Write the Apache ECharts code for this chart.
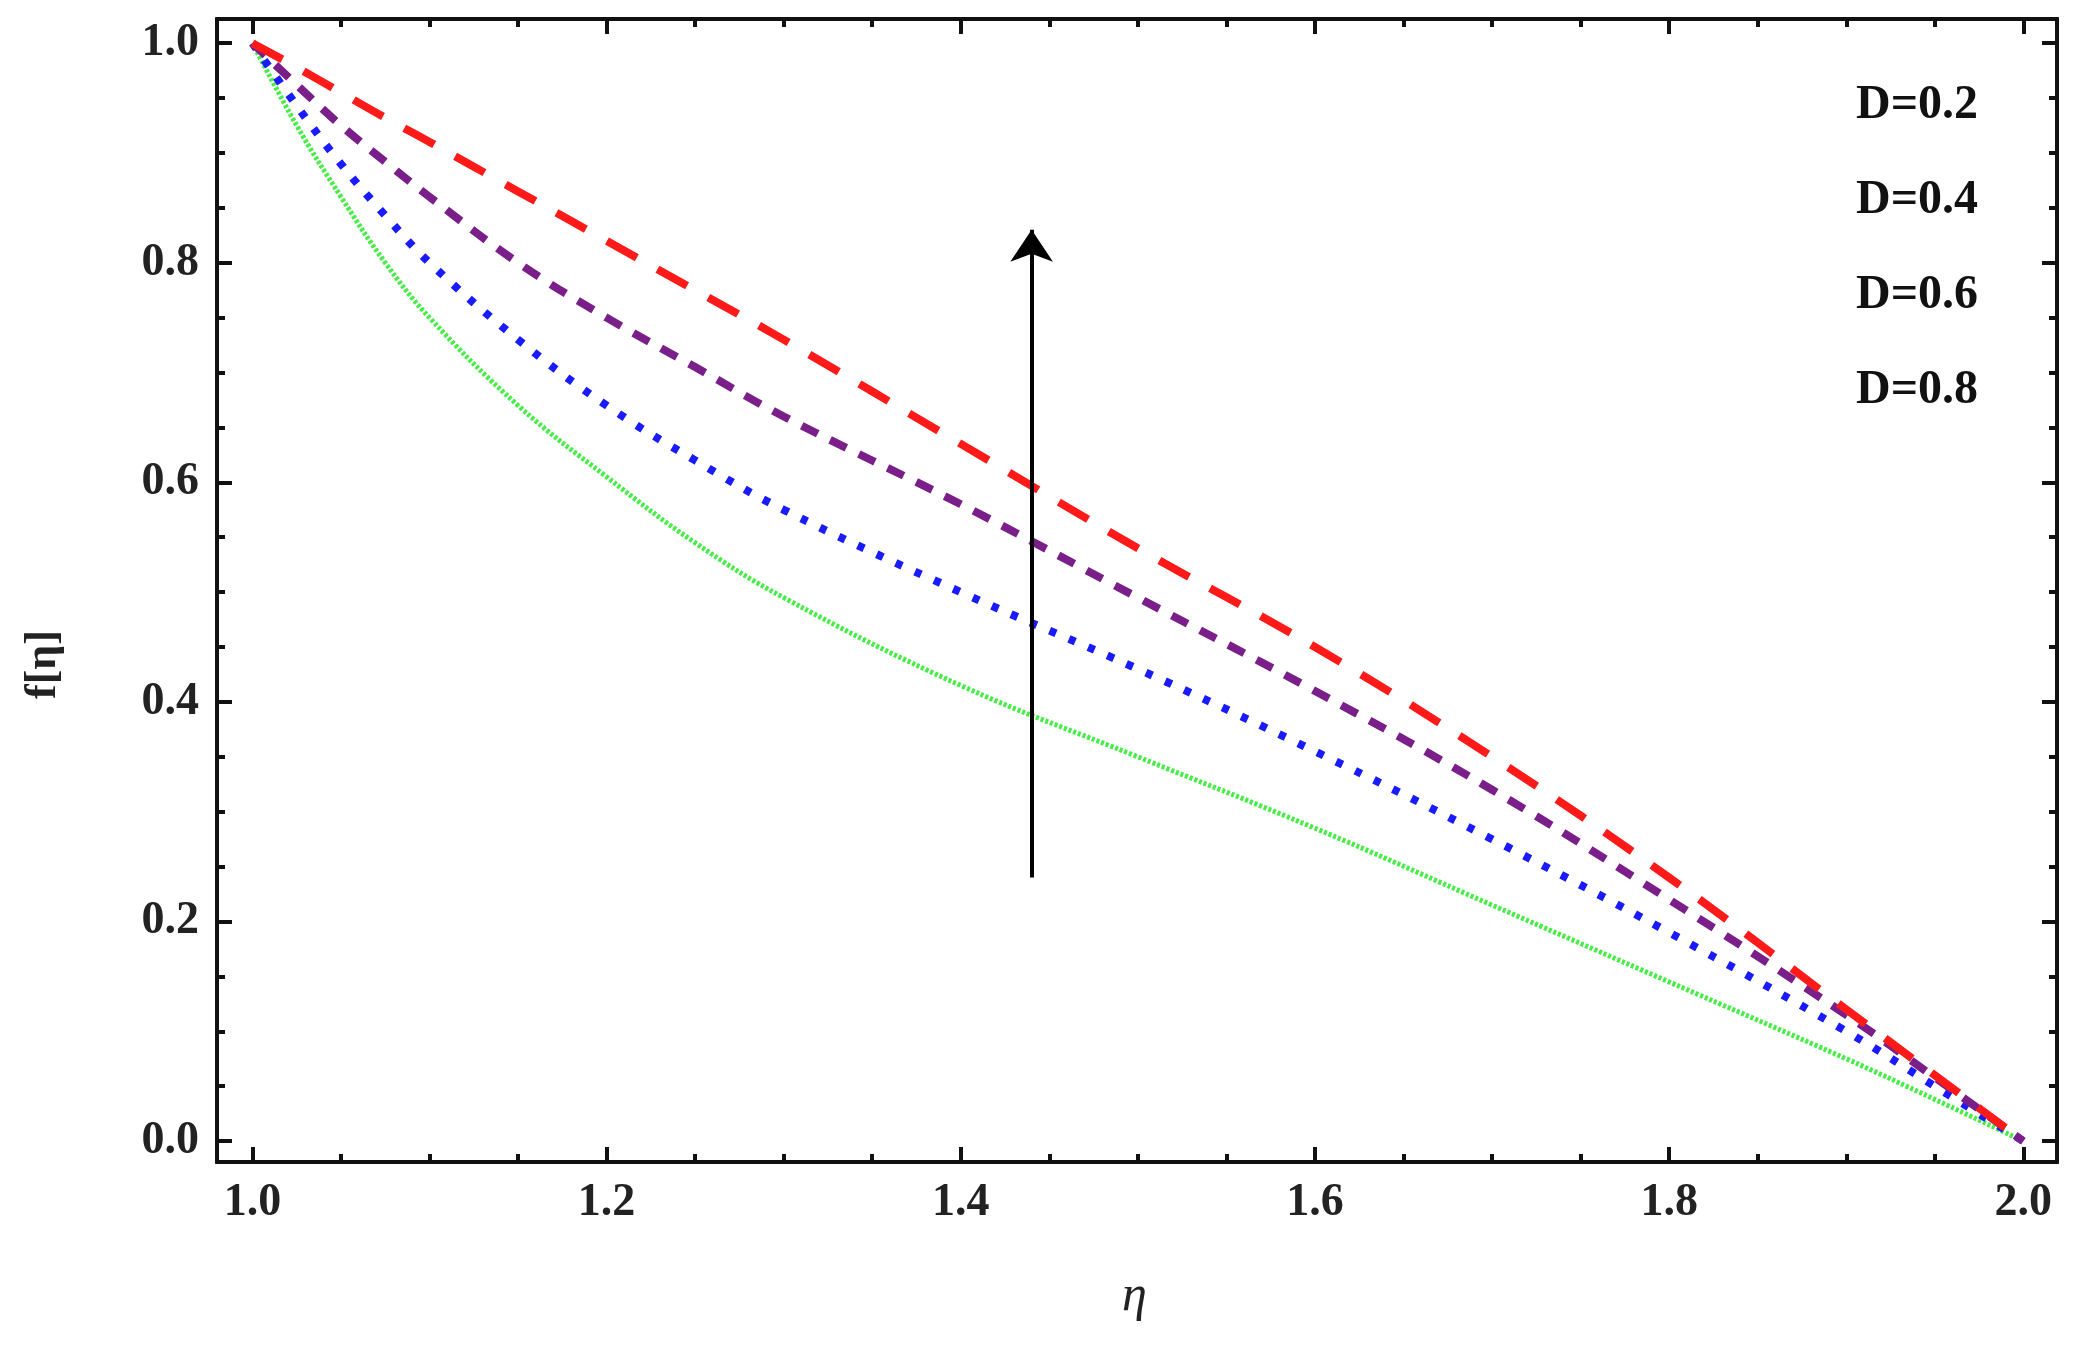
<!DOCTYPE html>
<html lang="en">
<head>
  <meta charset="UTF-8">
  <title>f[eta]</title>
  <style>
    html, body { margin: 0; height: 100%; width: 100%; background: #fff; }
  </style>
</head>
<body>
  <div id="chart" style="width:2077px;height:1362px"></div>
  <script src="https://cdn.jsdelivr.net/npm/echarts@6/dist/echarts.min.js"></script>
  <script>
    const etaValues = [1.0, 1.025, 1.05, 1.075, 1.1, 1.15, 1.2, 1.25, 1.3, 1.4, 1.5, 1.6, 1.7, 1.8, 1.9, 1.95, 2.0]
    const seriesNames = ['D=0.2', 'D=0.4', 'D=0.6', 'D=0.8']
    const fRed    = [1.0, 0.978, 0.955, 0.932, 0.91, 0.865, 0.82, 0.775, 0.73, 0.635, 0.54, 0.45, 0.35, 0.24, 0.12, 0.06, 0.0]
    const fPurple = [1.0, 0.962, 0.925, 0.892, 0.86, 0.80, 0.75, 0.705, 0.66, 0.58, 0.495, 0.41, 0.32, 0.22, 0.115, 0.058, 0.0]
    const fBlue   = [1.0, 0.943, 0.89, 0.843, 0.80, 0.73, 0.67, 0.62, 0.575, 0.50, 0.43, 0.355, 0.275, 0.19, 0.10, 0.05, 0.0]
    const fGreen  = [1.0, 0.925, 0.86, 0.80, 0.75, 0.67, 0.605, 0.545, 0.495, 0.415, 0.35, 0.285, 0.215, 0.145, 0.075, 0.038, 0.0]
    const xMajor = [1.0, 1.2, 1.4, 1.6, 1.8, 2.0]
    const xMinor = [1.05, 1.1, 1.15, 1.25, 1.3, 1.35, 1.45, 1.5, 1.55, 1.65, 1.7, 1.75, 1.85, 1.9, 1.95]
    const yMajor = [0.0, 0.2, 0.4, 0.6, 0.8, 1.0]
    const yMinor = [0.05, 0.1, 0.15, 0.25, 0.3, 0.35, 0.45, 0.5, 0.55, 0.65, 0.7, 0.75, 0.85, 0.9, 0.95]

    const font = 'Liberation Serif'
    const pair = (ys) => etaValues.map((x, i) => [x, ys[i]])

    function axis(kind, pos, major, labels) {
      const ax = {
        type: 'value', position: pos,
        min: kind === 'x' ? 0.98 : -0.019,
        max: kind === 'x' ? 2.019 : 1.022,
        splitLine: { show: false },
        axisLine: { show: true, onZero: false, lineStyle: { color: '#111', width: 4 } },
        axisTick: { show: true, inside: true, length: major ? 15 : 8,
          customValues: kind === 'x' ? (major ? xMajor : xMinor) : (major ? yMajor : yMinor),
          lineStyle: { color: '#111', width: 4 } },
        axisLabel: { show: false }
      }
      if (labels) {
        ax.axisLabel = { show: true, customValues: kind === 'x' ? xMajor : yMajor,
          formatter: v => v.toFixed(1), fontFamily: font, fontWeight: 'bold', fontSize: 46, color: '#222', margin: 18 }
      }
      return ax
    }

    const styles = [
      { color: '#ff1a1a', type: [34, 24], width: 8 },
      { color: '#7a1f8a', type: [18, 14], width: 8 },
      { color: '#1a1aff', type: [7, 14], width: 8 },
      { color: '#44ee44', type: [3, 2], width: 5 }
    ]
    const allF = [fRed, fPurple, fBlue, fGreen]

    const option = {
      backgroundColor: '#fff',
      animation: false,
      grid: { left: 217, right: 20, top: 19, bottom: 200 },
      xAxis: [axis('x', 'bottom', true, true), axis('x', 'bottom', false), axis('x', 'top', true), axis('x', 'top', false)],
      yAxis: [axis('y', 'left', true, true), axis('y', 'left', false), axis('y', 'right', true), axis('y', 'right', false)],
      series: seriesNames.map((n, i) => ({
        name: n, type: 'line', smooth: 0.4, showSymbol: false,
        data: pair(allF[i]), lineStyle: styles[i], z: 10 - i
      })).concat([{
        type: 'lines', coordinateSystem: 'cartesian2d', z: 20,
        symbol: ['none', 'arrow'], symbolSize: 32,
        lineStyle: { color: '#000', width: 4, opacity: 1 },
        data: [{ coords: [[1.44, 0.24], [1.44, 0.83]] }]
      }]),
      graphic: [
        ...seriesNames.map((n, i) => ({
          type: 'text', left: 1856, top: 82 + i * 95,
          style: { text: n, font: 'bold 48px "Liberation Serif"', fill: '#111' }
        })),
        { type: 'text', left: 1122, top: 1272, style: { text: 'η', font: 'italic 50px "Liberation Serif"', fill: '#222' } },
        { type: 'text', left: 22, top: 630, rotation: Math.PI / 2,
          style: { text: 'f[η]', font: 'bold 44px "Liberation Serif"', fill: '#222' } }
      ]
    }
    const myChart = echarts.init(document.getElementById('chart'))
    myChart.setOption(option)
  </script>
</body>
</html>
